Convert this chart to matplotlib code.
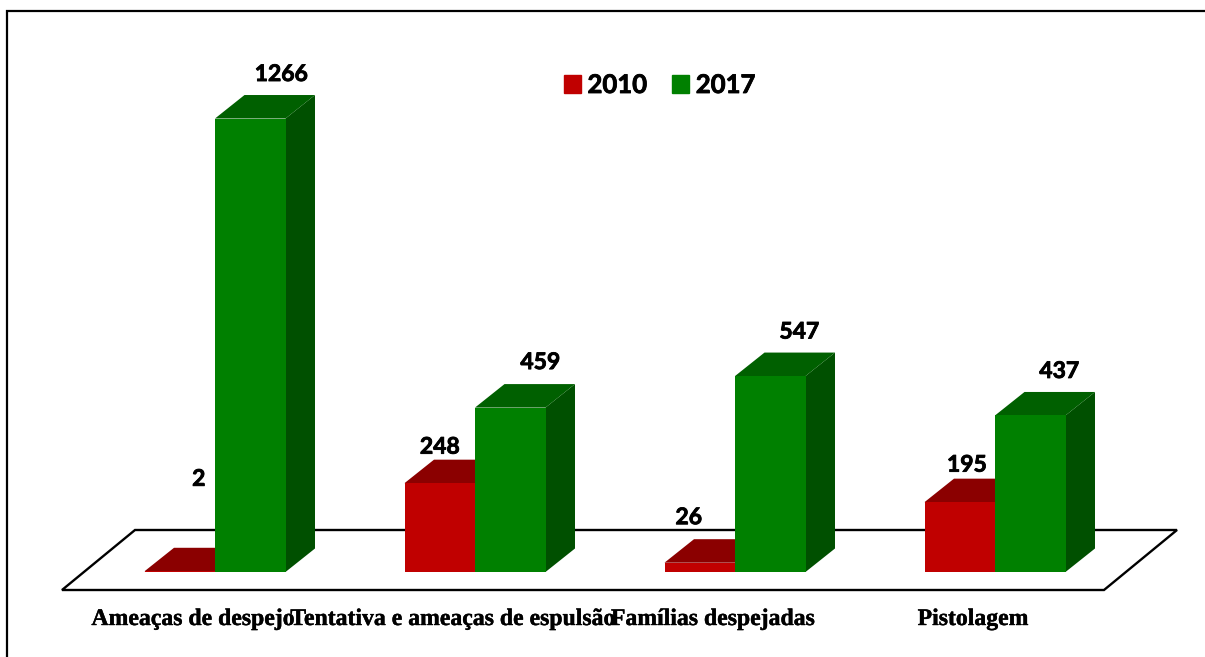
import matplotlib
matplotlib.use("Agg")
import matplotlib.pyplot as plt
import matplotlib.patheffects as pe
from matplotlib.patches import Patch, Polygon, Rectangle

categorias = ['Ameaças de despejo', 'Tentativa e ameaças de espulsão', 'Famílias despejadas', 'Pistolagem']
anos = ['2010', '2017']
valores_2010 = [2, 248, 26, 195]
valores_2017 = [1266, 459, 547, 437]

# deslocamento dos rotulos em pixels (dx, dy)
rotulos_2010 = [(19, 92), (0, 36), (-11, 45), (7, 37)]
rotulos_2017 = [(31, 44), (30, 45), (29, 44), (29, 44)]

W, H = 1205, 657
PX_X = 260.0      # pixels por categoria
PX_Y = 0.3582     # pixels por unidade
X0, Y0 = 215, 572  # categoria 0 / linha de base

fig = plt.figure(figsize=(W / 100, H / 100), dpi=100)
ax = fig.add_axes([0, 0, 1, 1])
ax.set_xlim(-X0 / PX_X, (W - X0) / PX_X)
ax.set_ylim(-(H - Y0) / PX_Y, Y0 / PX_Y)
ax.axis('off')

largura = 70.5 / PX_X
dx = 29.5 / PX_X
dy = 23.5 / PX_Y
negrito = [pe.withStroke(linewidth=0.6, foreground='black')]


def px(x, y):
    return (x - X0) / PX_X, (Y0 - y) / PX_Y


# moldura: so em cima e a esquerda
canto = px(7, 11)
ax.plot([px(7, 657)[0], canto[0], px(1205, 11)[0]], [px(7, 657)[1], canto[1], px(1205, 11)[1]],
        color='black', lw=1.6, solid_joinstyle='miter', solid_capstyle='butt')

# piso
piso = [px(62, 590), px(135, 530), px(1177, 530), px(1104, 590)]
ax.add_patch(Polygon(piso, closed=True, fc='white', ec='black', lw=1.7))


def barra3d(x, v, frente, topo, lado):
    ax.add_patch(Polygon([(x + largura, 0), (x + largura + dx, dy), (x + largura + dx, v + dy), (x + largura, v)],
                         fc=lado, ec='none'))
    ax.add_patch(Polygon([(x, v), (x + dx, v + dy), (x + largura + dx, v + dy), (x + largura, v)],
                         fc=topo, ec='none'))
    ax.add_patch(Rectangle((x, 0), largura, v, fc=frente, ec='none'))


for i in range(len(categorias)):
    barra3d(i - largura, valores_2010[i], '#C00000', '#8B0000', '#800000')
    barra3d(i, valores_2017[i], '#008000', '#006000', '#005000')

    ax.annotate(str(valores_2010[i]), (i - largura / 2, valores_2010[i]),
                xytext=(rotulos_2010[i][0] * 0.72, rotulos_2010[i][1] * 0.72), textcoords='offset points',
                ha='center', va='center', fontsize=16.5, fontweight='bold', family='Lato', path_effects=negrito)
    ax.annotate(str(valores_2017[i]), (i + largura / 2, valores_2017[i]),
                xytext=(rotulos_2017[i][0] * 0.72, rotulos_2017[i][1] * 0.72), textcoords='offset points',
                ha='center', va='center', fontsize=16.5, fontweight='bold', family='Lato', path_effects=negrito)

    # nome da categoria
    ax.annotate(categorias[i], (i, 0), xytext=(-22 * 0.72, -47.5 * 0.72), textcoords='offset points',
                ha='center', va='center', fontsize=17.1, fontweight='bold', family='Liberation Serif',
                path_effects=[pe.withStroke(linewidth=0.3, foreground='black')])

leg = ax.legend(handles=[Patch(color='#C00000', label=anos[0]), Patch(color='#008000', label=anos[1])],
                ncol=2, frameon=False, loc='center', bbox_to_anchor=(659.5 / W, 1 - 85 / H),
                handlelength=0.66, handleheight=0.68, handletextpad=0.27, columnspacing=0.97,
                prop={'family': 'Lato', 'weight': 'bold', 'size': 18.5})
for t in leg.get_texts():
    t.set_path_effects(negrito)

fig.savefig('out.png', dpi=100)
